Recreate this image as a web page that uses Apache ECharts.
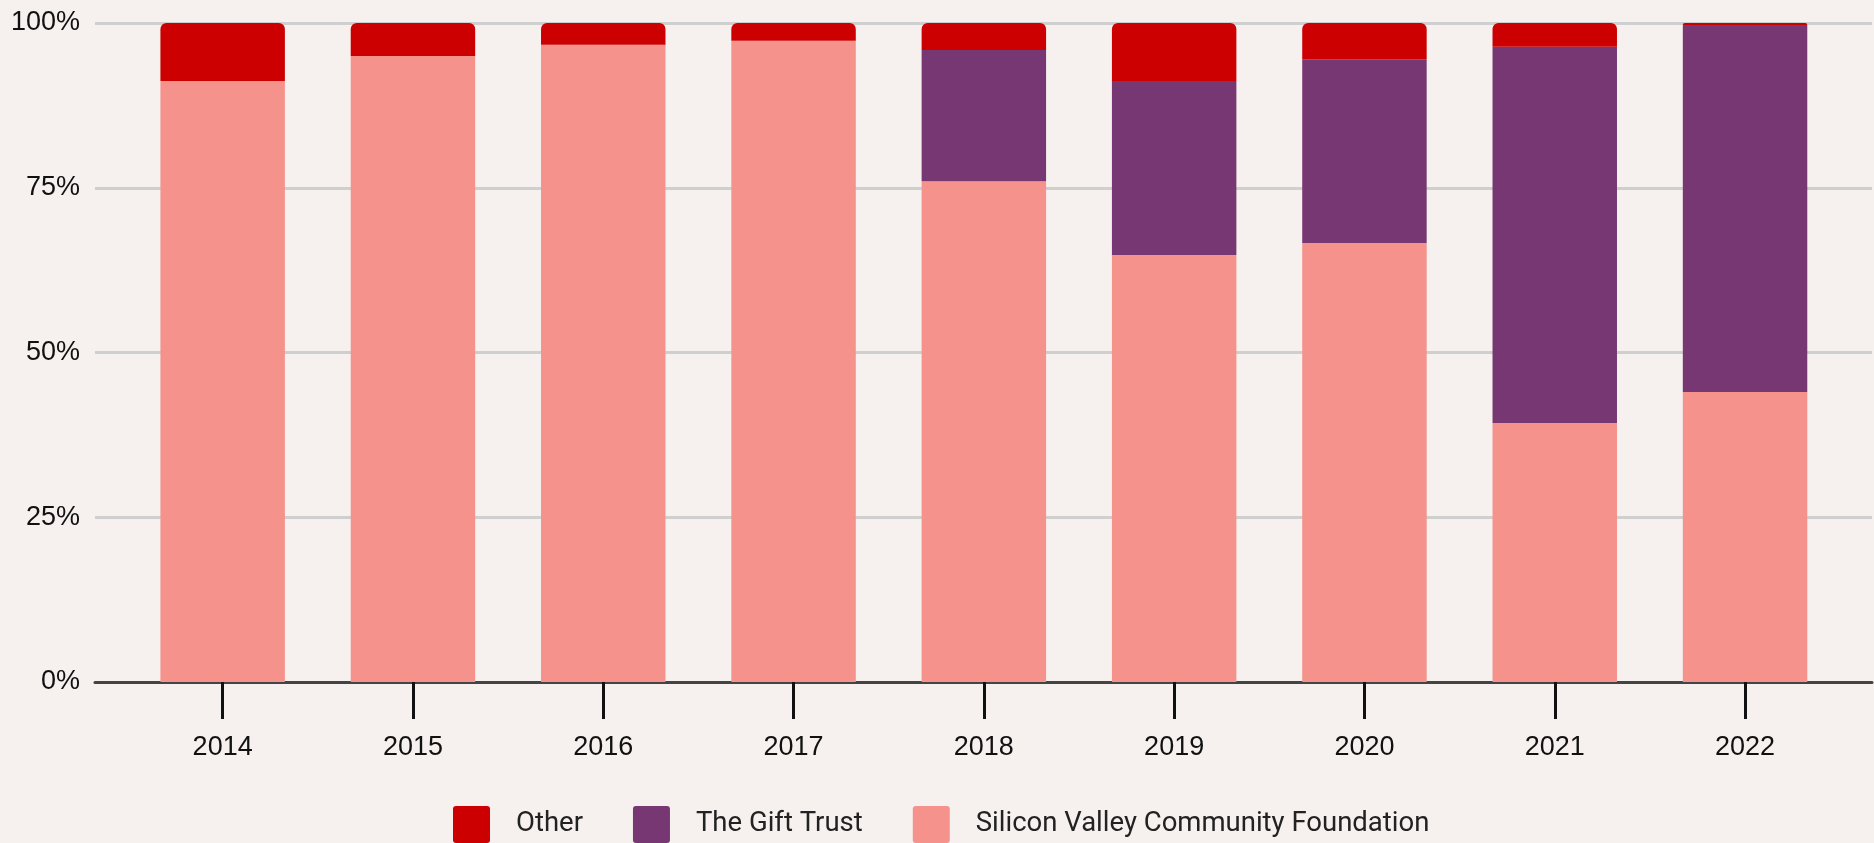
<!DOCTYPE html>
<html>
<head>
<meta charset="utf-8">
<script src="https://cdn.jsdelivr.net/npm/echarts@6/dist/echarts.min.js"></script>
<style>
html,body{margin:0;padding:0;background:#F6F1EE;}
#c{width:1874px;height:843px;}
</style>
</head>
<body>
<div id="c"></div>
<script>
var years = ['2014','2015','2016','2017','2018','2019','2020','2021','2022'];
var svcf  = [91.2, 95.0, 96.7, 97.3, 76.0, 64.8, 66.6, 39.3, 44.0];
var gift  = [0, 0, 0, 0, 19.9, 26.4, 27.9, 57.1, 55.7];
var other = [8.8, 5.0, 3.3, 2.7, 4.1, 8.8, 5.5, 3.6, 0.3];
var yTicks = [0, 25, 50, 75, 100];
var seriesNames = ['Other', 'The Gift Trust', 'Silicon Valley Community Foundation'];

var chart = echarts.init(document.getElementById('c'), null, {renderer:'canvas'});
var labelFont = '"Liberation Sans", Arial, sans-serif';
var legendIcon = 'path://M3,0 H34 Q37,0 37,3 V34 Q37,37 34,37 H3 Q0,37 0,34 V3 Q0,0 3,0 Z';
chart.setOption({
  backgroundColor: '#F6F1EE',
  animation: false,
  grid: [
    {left: 95, right: 2, top: 23, bottom: 161},
    {left: 127.5, right: 33.8, top: 23, bottom: 161}
  ],
  xAxis: [
    {gridIndex: 0, type: 'value', min: 0, max: 1,
     axisLine: {show: true, lineStyle: {color: '#444', width: 3}},
     axisTick: {show: false}, axisLabel: {show: false}, splitLine: {show: false}},
    {gridIndex: 1, type: 'category', data: years,
     axisLine: {show: false},
     axisTick: {show: true, alignWithLabel: true, length: 37, lineStyle: {color: '#111', width: 3}},
     axisLabel: {margin: 52, fontSize: 27, color: '#111', fontFamily: labelFont}}
  ],
  yAxis: [
    {gridIndex: 0, type: 'value', min: yTicks[0], max: yTicks[yTicks.length-1], interval: 25,
     axisLine: {show: false}, axisTick: {show: false},
     axisLabel: {margin: 15, fontSize: 27, color: '#111', fontFamily: labelFont, formatter: '{value}%'},
     splitLine: {show: true, lineStyle: {color: '#CFCFCF', width: 3}}},
    {gridIndex: 1, type: 'value', min: 0, max: 100,
     axisLine: {show: false}, axisTick: {show: false}, axisLabel: {show: false}, splitLine: {show: false}}
  ],
  legend: {
    data: seriesNames,
    top: 801,
    left: 448,
    icon: legendIcon,
    itemWidth: 37, itemHeight: 37, itemGap: 50,
    textStyle: {fontSize: 27.5, color: '#222', fontFamily: 'Roboto, sans-serif', padding: [0,0,0,21]}
  },
  series: [
    {name: seriesNames[2], type: 'bar', stack: 's', xAxisIndex: 1, yAxisIndex: 1,
     data: svcf, barWidth: '65.4%', itemStyle: {color: '#F4928B'}},
    {name: seriesNames[1], type: 'bar', stack: 's', xAxisIndex: 1, yAxisIndex: 1,
     data: gift, barWidth: '65.4%', itemStyle: {color: '#763772'}},
    {name: seriesNames[0], type: 'bar', stack: 's', xAxisIndex: 1, yAxisIndex: 1,
     data: other, barWidth: '65.4%', itemStyle: {color: '#CC0000', borderRadius: [6,6,0,0]}}
  ]
});
</script>
</body>
</html>
